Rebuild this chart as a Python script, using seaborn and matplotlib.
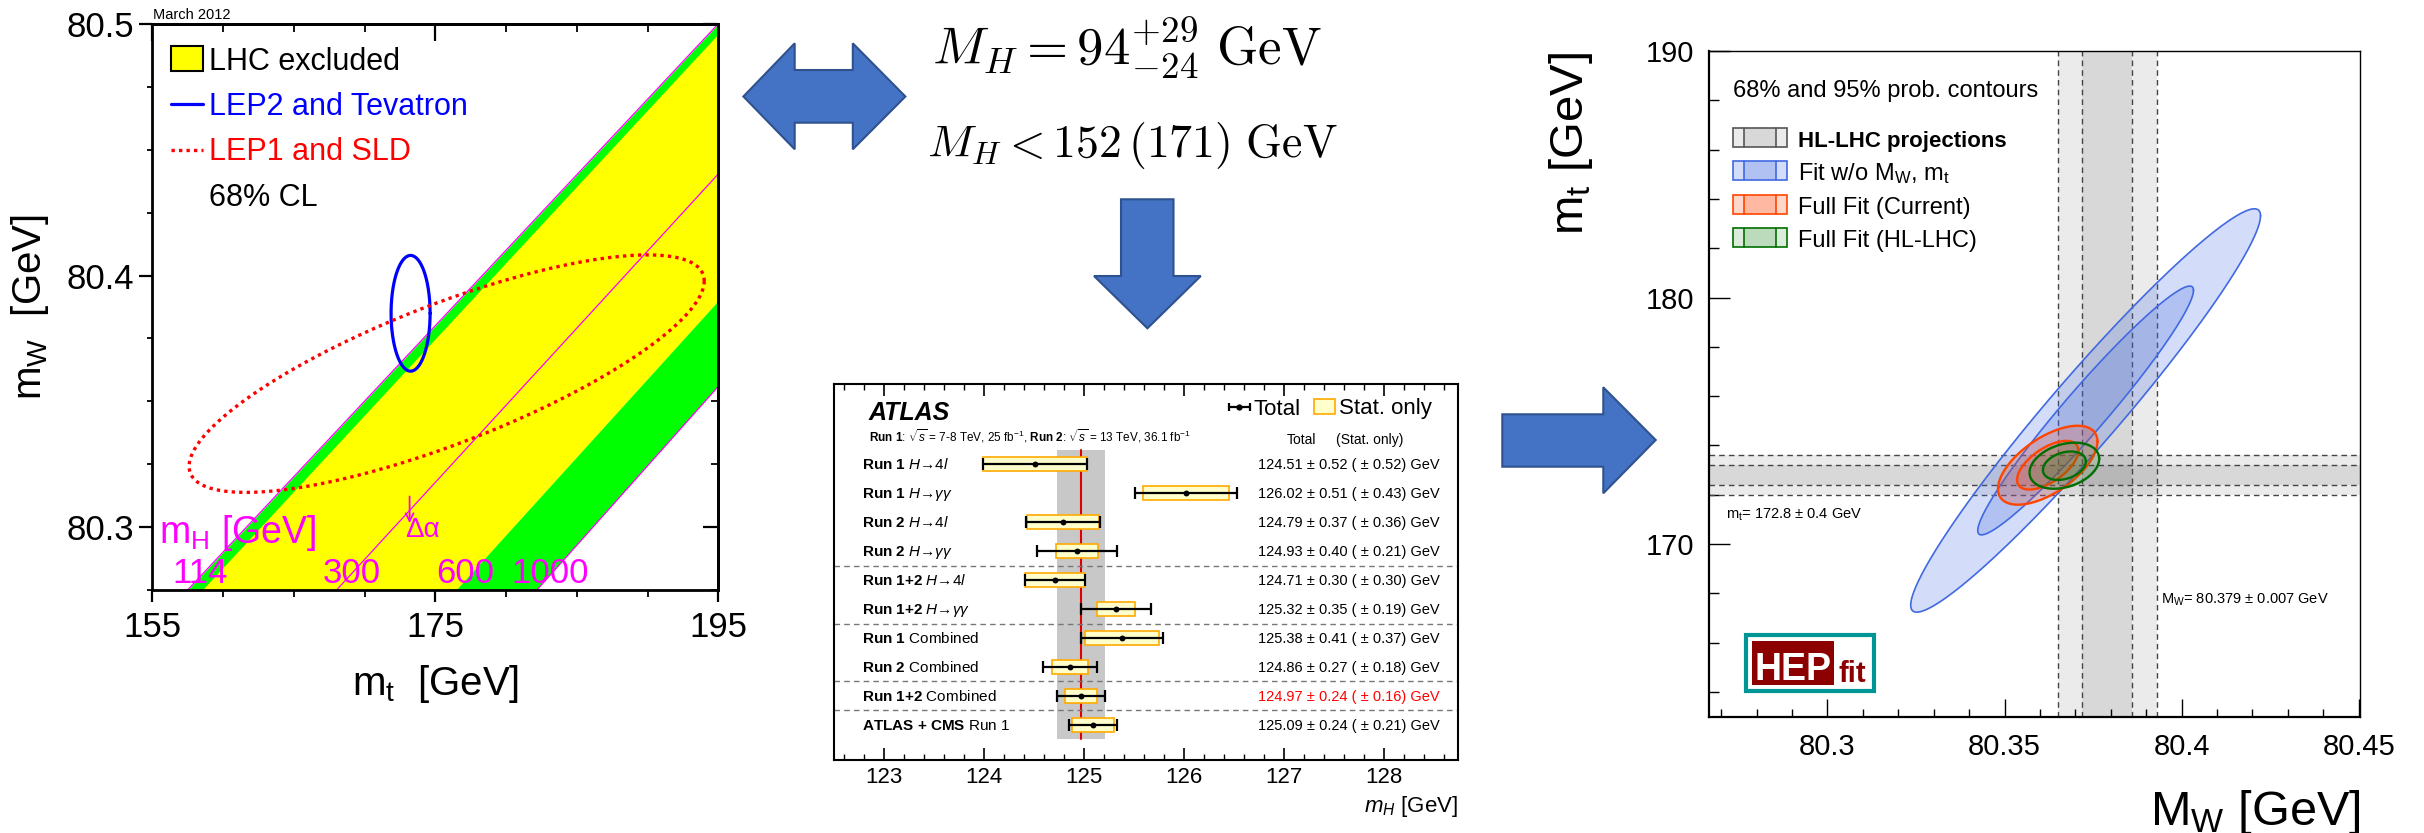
import numpy as np
import matplotlib
matplotlib.use("Agg")
import matplotlib.pyplot as plt
from matplotlib.patches import Polygon, Rectangle
from matplotlib.lines import Line2D
from matplotlib.ticker import MultipleLocator
import seaborn as sns

sns.set_style("white")
plt.rcParams["font.family"] = ["Liberation Sans", "DejaVu Sans"]
plt.rcParams["mathtext.fontset"] = "custom"
plt.rcParams["mathtext.rm"] = "Liberation Sans"
plt.rcParams["mathtext.it"] = "Liberation Sans:italic"
plt.rcParams["mathtext.bf"] = "Liberation Sans:bold"
plt.rcParams["text.color"] = "black"
plt.rcParams["axes.edgecolor"] = "black"
plt.rcParams["xtick.color"] = "black"
plt.rcParams["ytick.color"] = "black"

# ---------------- data ----------------
# SM prediction lines m_W = a + b (m_t - 175) for fixed Higgs masses
sm_mh = [114, 127, 300, 600, 1000]
sm_mw_175 = [80.3801, 80.3745, 80.3178, 80.2656, 80.2297]
sm_slope = [0.00600, 0.00606, 0.00613, 0.00620, 0.00631]
mh_tick_text = ["114", "300", "600", "1000"]
mh_tick_mt = [158.4, 169.1, 177.1, 183.1]

# direct / indirect (m_t, m_W) measurements, 68% CL
ew_names = ["LEP2 and Tevatron", "LEP1 and SLD"]
ew_mt = [173.25, 175.8]
ew_mw = [80.385, 80.361]
ew_smt = [0.914, 12.06]
ew_smw = [0.01524, 0.03127]
ew_rho = [0.0, 0.78]

# ATLAS Higgs mass summary
atlas_labels = [
    r"$\mathbf{Run\ 1}\ \mathit{H→4l}$",
    r"$\mathbf{Run\ 1}\ \mathit{H→\gamma\gamma}$",
    r"$\mathbf{Run\ 2}\ \mathit{H→4l}$",
    r"$\mathbf{Run\ 2}\ \mathit{H→\gamma\gamma}$",
    r"$\mathbf{Run\ 1{+}2}\ \mathit{H→4l}$",
    r"$\mathbf{Run\ 1{+}2}\ \mathit{H→\gamma\gamma}$",
    r"$\mathbf{Run\ 1}$ Combined",
    r"$\mathbf{Run\ 2}$ Combined",
    r"$\mathbf{Run\ 1{+}2}$ Combined",
    r"$\mathbf{ATLAS\ {+}\ CMS}$ Run 1",
]
atlas_mass = [124.51, 126.02, 124.79, 124.93, 124.71, 125.32, 125.38, 124.86, 124.97, 125.09]
atlas_tot = [0.52, 0.51, 0.37, 0.40, 0.30, 0.35, 0.41, 0.27, 0.24, 0.24]
atlas_stat = [0.52, 0.43, 0.36, 0.21, 0.30, 0.19, 0.37, 0.18, 0.16, 0.21]
atlas_sep = [3.5, 5.5, 7.5, 8.5]
atlas_ref = 8

# HEPfit (M_W, m_t) posterior contours
fit_names = [r"Fit w/o M$_\mathregular{W}$, m$_\mathregular{t}$", "Full Fit (Current)", "Full Fit (HL-LHC)"]
fit_mw = [80.3729, 80.3622, 80.3669]
fit_mt = [175.42, 173.20, 173.18]
fit_smw = [0.02018, 0.00574, 0.00402]
fit_smt = [3.342, 0.654, 0.382]
fit_rho = [0.965, 0.60, 0.30]
fit_edge = ["#4169E1", "#FF4500", "#006E00"]
fit_fill = ["#4169E1", "#FF4A10", "#108010"]
fit_alpha = [0.23, 0.22, 0.15]
proj_mw, proj_smw = 80.379, 0.007
proj_mt, proj_smt = 172.8, 0.4

# ---------------- helpers ----------------
W, H = 2424, 833
fig = plt.figure(figsize=(W / 100, H / 100), dpi=100)


def P(x, y):
    return (x / W, 1 - y / H)


def box(x0, y0, x1, y1):
    return [x0 / W, 1 - y1 / H, (x1 - x0) / W, (y1 - y0) / H]


K68 = np.sqrt(-2 * np.log(0.32))
K95 = np.sqrt(-2 * np.log(0.05))


def gauss_contour(cx, cy, sx, sy, rho, k, n=400):
    t = np.linspace(0, 2 * np.pi, n)
    x = cx + k * sx * np.cos(t)
    y = cy + k * sy * (rho * np.cos(t) + np.sqrt(1 - rho ** 2) * np.sin(t))
    return x, y


def fig_poly(pts, **kw):
    fig.add_artist(Polygon([P(x, y) for x, y in pts], closed=True,
                           transform=fig.transFigure, **kw))


# ---------------- panel 1: m_W vs m_t ----------------
ax1 = fig.add_axes(box(152.4, 24, 718.3, 590))
ax1.set_xlim(155, 195)
ax1.set_ylim(80.275, 80.5)
mt_grid = np.linspace(150, 200, 300)
sm = [a + b * (mt_grid - 175) for a, b in zip(sm_mw_175, sm_slope)]
ax1.fill_between(mt_grid, sm[1], sm[0], color="#00FF00", lw=0, zorder=1)
ax1.fill_between(mt_grid, sm[3], sm[1], color="#FFFF00", lw=0, zorder=1)
ax1.fill_between(mt_grid, sm[4], sm[3], color="#00FF00", lw=0, zorder=1)
for i in (0, 2, 4):
    sns.lineplot(x=mt_grid, y=sm[i], ax=ax1, color="#FF00FF", lw=0.9, zorder=2)

bx, by = gauss_contour(ew_mt[0], ew_mw[0], ew_smt[0], ew_smw[0], ew_rho[0], K68)
ax1.plot(bx, by, color="#0000FF", lw=2.3, zorder=4)
rx, ry = gauss_contour(ew_mt[1], ew_mw[1], ew_smt[1], ew_smw[1], ew_rho[1], K68)
ax1.plot(rx, ry, color="#FF0000", lw=2.4, ls=(0, (1.0, 1.25)), zorder=4)

for txt, m in zip(mh_tick_text, mh_tick_mt):
    ax1.text(m, 80.2778, txt, color="#FF00FF", fontsize=25, ha="center", va="baseline", zorder=5)
ax1.text(155.5, 80.2937, r"m$_\mathregular{H}$ [GeV]", color="#FF00FF", fontsize=27,
         ha="left", va="baseline", zorder=5)
ax1.annotate("", xy=(173.18, 80.3016), xytext=(173.18, 80.3122),
             arrowprops=dict(arrowstyle="->", color="#FF00FF", lw=1.3,
                             shrinkA=0, shrinkB=0, mutation_scale=14), zorder=5)
ax1.text(172.85, 80.2961, "Δα", color="#FF00FF", fontsize=20, ha="left", va="baseline", zorder=5)

ax1.set_xticks([155, 175, 195])
ax1.set_xticklabels(["155", "175", "195"])
ax1.xaxis.set_minor_locator(MultipleLocator(5))
ax1.set_yticks([80.3, 80.4, 80.5])
ax1.set_yticklabels(["80.3", "80.4", "80.5"])
ax1.yaxis.set_minor_locator(MultipleLocator(0.025))
ax1.tick_params(axis="x", which="major", direction="out", length=8.4, width=1.6, pad=7,
                labelsize=25, bottom=True, top=False)
ax1.tick_params(axis="x", which="minor", direction="out", length=4.8, width=1.3, bottom=True, top=False)
ax1.tick_params(axis="y", which="major", direction="out", length=9.5, width=1.6, pad=4,
                labelsize=25, left=True, right=False)
ax1.tick_params(axis="y", which="minor", direction="out", length=3.4, width=1.3, left=True, right=False)
for s in ax1.spines.values():
    s.set_linewidth(2.0)
sec_top = ax1.secondary_xaxis("top")
sec_top.set_xticks([155, 175, 195])
sec_top.xaxis.set_minor_locator(MultipleLocator(5))
sec_top.tick_params(which="major", direction="in", length=12, width=1.6, labeltop=False)
sec_top.tick_params(which="minor", direction="in", length=6, width=1.3)
sec_top.spines["top"].set_linewidth(2.0)
sec_right = ax1.secondary_yaxis("right")
sec_right.set_yticks([80.3, 80.4, 80.5])
sec_right.yaxis.set_minor_locator(MultipleLocator(0.025))
sec_right.tick_params(which="major", direction="in", length=11, width=1.6, labelright=False)
sec_right.tick_params(which="minor", direction="in", length=5, width=1.3)
sec_right.spines["right"].set_linewidth(2.0)

fig.text(*P(153.4, 19), "March 2012", fontsize=10.5, va="baseline", ha="left")
fig.add_artist(Rectangle(P(170.8, 70.7), 32.1 / W, 24.7 / H, transform=fig.transFigure,
                         fc="#FFFF00", ec="black", lw=1.5))
fig.add_artist(Line2D([170.8 / W, 202.9 / W], [1 - 104 / H] * 2, transform=fig.transFigure,
                      color="#0000FF", lw=2.3))
fig.add_artist(Line2D([170.8 / W, 202.9 / W], [1 - 150 / H] * 2, transform=fig.transFigure,
                      color="#FF0000", lw=2.4, ls=(0, (1.0, 1.25))))
fig.text(*P(209, 70), "LHC excluded", fontsize=22, va="baseline")
fig.text(*P(209, 115), ew_names[0], fontsize=22, va="baseline", color="#0000FF")
fig.text(*P(209, 160), ew_names[1], fontsize=22, va="baseline", color="#FF0000")
fig.text(*P(209, 206), "68% CL", fontsize=22, va="baseline")
fig.text(*P(436, 695), r"m$_\mathregular{t}$  [GeV]", fontsize=29, ha="center", va="baseline")
fig.text(*P(30, 307), r"m$_\mathregular{W}$  [GeV]", fontsize=29, ha="center", va="center",
         rotation=90)

# ---------------- arrows and text in the middle ----------------
arrow_kw = dict(fc="#4472C4", ec="#2F528F", lw=1.5, zorder=3)
fig_poly([(743.4, 96.5), (794.7, 43.3), (794.7, 70), (852.8, 70), (852.8, 43.3),
          (905.4, 96.5), (852.8, 149.3), (852.8, 122.7), (794.7, 122.7), (794.7, 149.3)], **arrow_kw)
fig_poly([(1121, 199.3), (1173.5, 199.3), (1173.5, 276), (1200.8, 276), (1147.4, 328.3),
          (1094, 276), (1121, 276)], **arrow_kw)
fig_poly([(1502.3, 414.3), (1603.3, 414.3), (1603.3, 387.3), (1655.7, 440), (1603.3, 493.3),
          (1603.3, 466.7), (1502.3, 466.7)], **arrow_kw)

fig.text(*P(1127, 65), r"$M_H = 94^{+29}_{-24}\ \mathrm{GeV}$", math_fontfamily="cm",
         fontsize=38, ha="center", va="baseline")
fig.text(*P(1132, 156.7), r"$M_H < 152\,(171)\ \mathrm{GeV}$", math_fontfamily="cm",
         fontsize=33, ha="center", va="baseline")

# ---------------- panel 2: ATLAS Higgs mass ----------------
ax2 = fig.add_axes(box(833.7, 384, 1457.6, 760))
ax2.set_xlim(122.5, 128.74)
ax2.set_ylim(10.21, -2.77)
rows = np.arange(len(atlas_mass))
m_ref, e_ref = atlas_mass[atlas_ref], atlas_tot[atlas_ref]
ax2.fill_betweenx([-0.5, 9.5], m_ref - e_ref, m_ref + e_ref, color="#C8C8C8", lw=0, zorder=1)
ax2.plot([m_ref, m_ref], [-0.5, 9.5], color="#E00000", lw=1.5, zorder=2)
for y in atlas_sep:
    ax2.axhline(y, color="#777777", lw=1.0, ls=(0, (4, 3)), zorder=2)
for r, m, s in zip(rows, atlas_mass, atlas_stat):
    ax2.add_patch(Rectangle((m - s, r - 0.24), 2 * s, 0.48, fc="#FFFFCC", ec="#FFAA00",
                            lw=1.2, zorder=3))
ax2.errorbar(atlas_mass, rows, xerr=atlas_tot, fmt="none", ecolor="black", elinewidth=1.6,
             capsize=4.5, capthick=1.6, zorder=4)
sns.scatterplot(x=atlas_mass, y=rows, ax=ax2, color="black", s=18, linewidth=0, zorder=5)
for r, lab, m, t, s in zip(rows, atlas_labels, atlas_mass, atlas_tot, atlas_stat):
    ax2.text(122.78, r + 0.17, lab, fontsize=11, va="baseline", ha="left")
    ax2.text(126.74, r + 0.17, f"{m:.2f} ± {t:.2f} ( ± {s:.2f}) GeV", fontsize=10.5,
             va="baseline", ha="left", color="#FF0000" if r == atlas_ref else "black")
ax2.text(122.85, -1.53, "ATLAS", fontsize=18, fontweight="bold", fontstyle="italic", va="baseline")
ax2.text(122.85, -0.78, r"$\mathbf{Run\ 1}$: $\sqrt{s}$ = 7-8 TeV, 25 fb$^{-1}$, "
                        r"$\mathbf{Run\ 2}$: $\sqrt{s}$ = 13 TeV, 36.1 fb$^{-1}$",
         fontsize=8.5, va="baseline")
ax2.errorbar([126.555], [-1.99], xerr=[0.105], fmt="o", color="black", ms=3.5,
             elinewidth=1.6, capsize=3, capthick=1.6)
ax2.text(126.70, -1.70, "Total", fontsize=16, va="baseline")
ax2.add_patch(Rectangle((127.30, -2.25), 0.21, 0.52, fc="#FFFFCC", ec="#FFAA00", lw=1.2))
ax2.text(127.55, -1.74, "Stat. only", fontsize=16, va="baseline")
ax2.text(127.18, -0.70, "Total", fontsize=10, ha="center", va="baseline")
ax2.text(127.86, -0.70, "(Stat. only)", fontsize=10, ha="center", va="baseline")
ax2.set_yticks([])
ax2.set_xticks(range(123, 129))
ax2.set_xticklabels([str(v) for v in range(123, 129)])
ax2.xaxis.set_minor_locator(MultipleLocator(0.2))
ax2.tick_params(axis="x", which="major", direction="in", length=8.4, width=1.2, top=True,
                bottom=True, labelsize=16, pad=5)
ax2.tick_params(axis="x", which="minor", direction="in", length=4.3, width=1.0, top=True, bottom=True)
for s in ax2.spines.values():
    s.set_linewidth(1.5)
fig.text(*P(1457.6, 811.7), r"$\mathit{m_H}$ [GeV]", fontsize=16, ha="right", va="baseline")

# ---------------- panel 3: HEPfit M_W vs m_t ----------------
ax3 = fig.add_axes(box(1709.2, 51, 2360.4, 716.7))
ax3.set_xlim(80.2666, 80.4505)
ax3.set_ylim(163, 190)
band_kw = dict(color="black", alpha=0.08, lw=0, zorder=1)
dash_kw = dict(color="#444444", lw=1.0, ls=(0, (4, 3)), zorder=2)
for n in (2, 1):
    ax3.axvspan(proj_mw - n * proj_smw, proj_mw + n * proj_smw, **band_kw)
    ax3.axhspan(proj_mt - n * proj_smt, proj_mt + n * proj_smt, **band_kw)
    for sgn in (-1, 1):
        ax3.axvline(proj_mw + sgn * n * proj_smw, **dash_kw)
        ax3.axhline(proj_mt + sgn * n * proj_smt, **dash_kw)
for i in range(3):
    for k in (K95, K68):
        cx, cy = gauss_contour(fit_mw[i], fit_mt[i], fit_smw[i], fit_smt[i], fit_rho[i], k)
        ax3.fill(cx, cy, color=fit_fill[i], alpha=fit_alpha[i], lw=0, zorder=3 + i)
        ax3.plot(cx, cy, color=fit_edge[i], lw=1.2 if i == 0 else 1.7, zorder=3 + i)

ax3.set_xticks([80.3, 80.35, 80.4, 80.45])
ax3.set_xticklabels(["80.3", "80.35", "80.4", "80.45"])
ax3.xaxis.set_minor_locator(MultipleLocator(0.01))
ax3.set_yticks([170, 180, 190])
ax3.set_yticklabels(["170", "180", "190"])
ax3.yaxis.set_minor_locator(MultipleLocator(2))
ax3.tick_params(axis="x", which="major", direction="in", length=13, width=1.0, bottom=True,
                top=False, labelsize=21, pad=12)
ax3.tick_params(axis="x", which="minor", direction="in", length=5.8, width=1.0, bottom=True, top=False)
ax3.tick_params(axis="y", which="major", direction="in", length=14.8, width=1.0, left=True,
                right=False, labelsize=21, pad=10.5)
ax3.tick_params(axis="y", which="minor", direction="in", length=7.2, width=1.0, left=True, right=False)
for s in ax3.spines.values():
    s.set_linewidth(1.0)
ax3.spines["bottom"].set_linewidth(1.6)
ax3.spines["left"].set_linewidth(1.6)

fig.text(*P(1732.8, 96.7), "68% and 95% prob. contours", fontsize=17, va="baseline")
leg_names = ["HL-LHC projections"] + fit_names
leg_edge = ["#555555"] + fit_edge
leg_fill = ["black"] + fit_fill
leg_alpha = [0.08] + fit_alpha
leg_base = [146.7, 180.0, 213.7, 247.0]
for name, ec, fc, a, yb in zip(leg_names, leg_edge, leg_fill, leg_alpha, leg_base):
    x0, x1, y0, y1 = 1733.3, 1786.7, yb - 19.0, yb
    fig.add_artist(Rectangle(P(x0, y1), (x1 - x0) / W, (y1 - y0) / H, transform=fig.transFigure,
                             fc=fc, alpha=a, lw=0))
    xm0, xm1 = x0 + 0.2 * (x1 - x0), x0 + 0.8 * (x1 - x0)
    fig.add_artist(Rectangle(P(xm0, y1), (xm1 - xm0) / W, (y1 - y0) / H, transform=fig.transFigure,
                             fc=fc, alpha=a, lw=0))
    fig.add_artist(Rectangle(P(x0, y1), (x1 - x0) / W, (y1 - y0) / H, transform=fig.transFigure,
                             fc="none", ec=ec, lw=1.2))
    for xv in (xm0, xm1):
        fig.add_artist(Line2D([xv / W] * 2, [1 - y0 / H, 1 - y1 / H], transform=fig.transFigure,
                              color=ec, lw=1.2))
    fig.text(*P(1797.7, yb), name, fontsize=16 if name.startswith("HL") else 17,
             fontweight="bold" if name.startswith("HL") else "normal", va="baseline")

fig.text(*P(1725.7, 518.3), r"m$_\mathregular{t}$= " + f"{proj_mt:.1f} ± {proj_smt:.1f} GeV",
         fontsize=10.5, va="baseline")
fig.text(*P(2161, 604), r"M$_\mathregular{W}$= " + f"{proj_mw:.3f} ± {proj_smw:.3f} GeV",
         fontsize=10.5, va="baseline")
fig.text(*P(1570.7, 143.5), r"m$_\mathregular{t}$ [GeV]", fontsize=34, rotation=90,
         ha="center", va="center")
fig.text(*P(2360.4, 825), r"M$_\mathregular{W}$ [GeV]", fontsize=35, ha="right", va="baseline")

# HEPfit logo
fig.add_artist(Rectangle(P(1746, 691.3), 128 / W, 56.6 / H, transform=fig.transFigure,
                         fc="white", ec="#009696", lw=3.0, zorder=6))
fig.add_artist(Rectangle(P(1751.7, 685), 82.3 / W, 44.3 / H, transform=fig.transFigure,
                         fc="#8C0000", lw=0, zorder=7))
fig.text(*P(1792.9, 680), "HEP", fontsize=27, fontweight="bold", color="white",
         ha="center", va="baseline", zorder=8)
fig.text(*P(1852.5, 681.7), "fit", fontsize=21, fontweight="bold", color="#8C0000",
         ha="center", va="baseline", zorder=8)

fig.savefig("out.png", dpi=100)
